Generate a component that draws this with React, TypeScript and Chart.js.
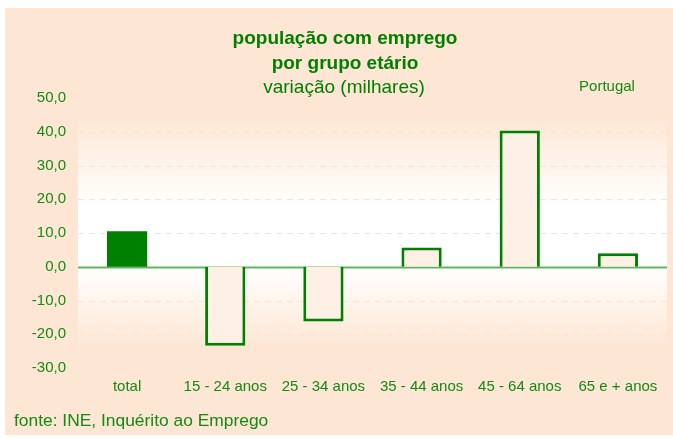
import React, { useEffect, useRef } from "react";
import { Chart, registerables } from "chart.js";

Chart.register(...registerables);

const categories = ["total", "15 - 24 anos", "25 - 34 anos", "35 - 44 anos", "45 - 64 anos", "65 e + anos"];
const values = [10.5, -23.4, -16.2, 5.7, 40.4, 4.0];
const yMin = -30;
const yMax = 50;
const yStep = 10;
const titleLines = ["população com emprego", "por grupo etário"];
const subtitle = "variação (milhares)";
const regionLabel = "Portugal";
const sourceLabel = "fonte: INE, Inquérito ao Emprego";

const GREEN = "#008000";
const TEXT = "#138a13";
const PEACH = "#FDE6D3";
const FONT = "'Liberation Sans', Arial, sans-serif";

export default function App() {
  const ref = useRef<HTMLCanvasElement | null>(null);

  useEffect(() => {
    if (!ref.current) return;

    const bgPlugin = {
      id: "bg",
      beforeDraw(chart: any) {
        const { ctx, chartArea } = chart;
        ctx.save();
        ctx.fillStyle = "#ffffff";
        ctx.fillRect(0, 0, chart.width, chart.height);
        ctx.fillStyle = PEACH;
        ctx.fillRect(5, 8, chart.width - 5, chart.height - 11);
        const top = chartArea.top + 19;
        const bottom = chartArea.bottom - 18;
        const y0 = chart.scales.y.getPixelForValue(0);
        const g = ctx.createLinearGradient(0, top, 0, bottom);
        g.addColorStop(0, "#FDE7D4");
        g.addColorStop(0.38, "#ffffff");
        g.addColorStop(Math.min(0.99, (y0 - top) / (bottom - top)), "#ffffff");
        g.addColorStop(1, "#FDE6D2");
        ctx.fillStyle = g;
        ctx.fillRect(chartArea.left, top, chartArea.right - chartArea.left, bottom - top);
        ctx.restore();
      },
      beforeDatasetsDraw(chart: any) {
        const { ctx, chartArea } = chart;
        const ys = chart.scales.y;
        ctx.save();
        ys.ticks.forEach((t: any) => {
          if (t.value === yMin || t.value === yMax) return;
          const py = Math.round(ys.getPixelForValue(t.value)) + 0.5;
          ctx.beginPath();
          if (t.value === 0) {
            ctx.setLineDash([]);
            ctx.strokeStyle = "#5fb65f";
            ctx.lineWidth = 2;
          } else {
            ctx.setLineDash([6, 5]);
            ctx.strokeStyle = "#FBE2CE";
            ctx.lineWidth = 1;
          }
          ctx.moveTo(chartArea.left, py);
          ctx.lineTo(chartArea.right, py);
          ctx.stroke();
        });
        ctx.restore();
      },
      afterDraw(chart: any) {
        const { ctx } = chart;
        ctx.save();
        ctx.fillStyle = GREEN;
        ctx.textAlign = "center";
        ctx.textBaseline = "middle";
        ctx.font = `bold 19px ${FONT}`;
        ctx.fillText(titleLines[0], 345, 39);
        ctx.fillText(titleLines[1], 345, 64);
        ctx.font = `19px ${FONT}`;
        ctx.fillText(subtitle, 344, 88);
        ctx.fillStyle = TEXT;
        ctx.font = `15px ${FONT}`;
        ctx.fillText(regionLabel, 607, 87);
        ctx.textAlign = "left";
        ctx.font = `17.4px ${FONT}`;
        ctx.fillText(sourceLabel, 14, 421);
        ctx.restore();
      },
    };

    const chart = new Chart(ref.current, {
      type: "bar",
      data: {
        labels: categories,
        datasets: [
          {
            data: values,
            backgroundColor: values.map((_, i) => (i === 0 ? GREEN : "#FEF0E4")),
            borderColor: GREEN,
            borderWidth: values.map((_, i) => (i === 0 ? 0 : 3)),
            barPercentage: 0.41,
            categoryPercentage: 1,
          },
        ],
      },
      options: {
        animation: false,
        responsive: false,
        maintainAspectRatio: false,
        layout: { padding: { left: 0, right: 6, top: 98, bottom: 40 } },
        plugins: {
          legend: { display: false },
          title: { display: false },
          tooltip: { enabled: false },
        },
        scales: {
          x: {
            grid: { display: false, drawTicks: false },
            border: { display: false },
            ticks: { color: TEXT, font: { family: FONT, size: 15 }, padding: 10, maxRotation: 0, autoSkip: false },
            afterFit(scale: any) {
              scale.height = 30;
            },
          },
          y: {
            min: yMin,
            max: yMax,
            grid: { display: false, drawTicks: false },
            border: { display: false },
            ticks: {
              stepSize: yStep,
              color: TEXT,
              font: { family: FONT, size: 15 },
              padding: 12,
              callback: (v: any) => Number(v).toFixed(1).replace(".", ","),
            },
            afterFit(scale: any) {
              scale.width = 78;
            },
          },
        },
      },
      plugins: [bgPlugin],
    });

    return () => chart.destroy();
  }, []);

  return (
    <div style={{ position: "fixed", left: 0, top: 0, width: 673, height: 438 }}>
      <canvas ref={ref} width={673} height={438} style={{ width: 673, height: 438, display: "block" }} />
    </div>
  );
}
